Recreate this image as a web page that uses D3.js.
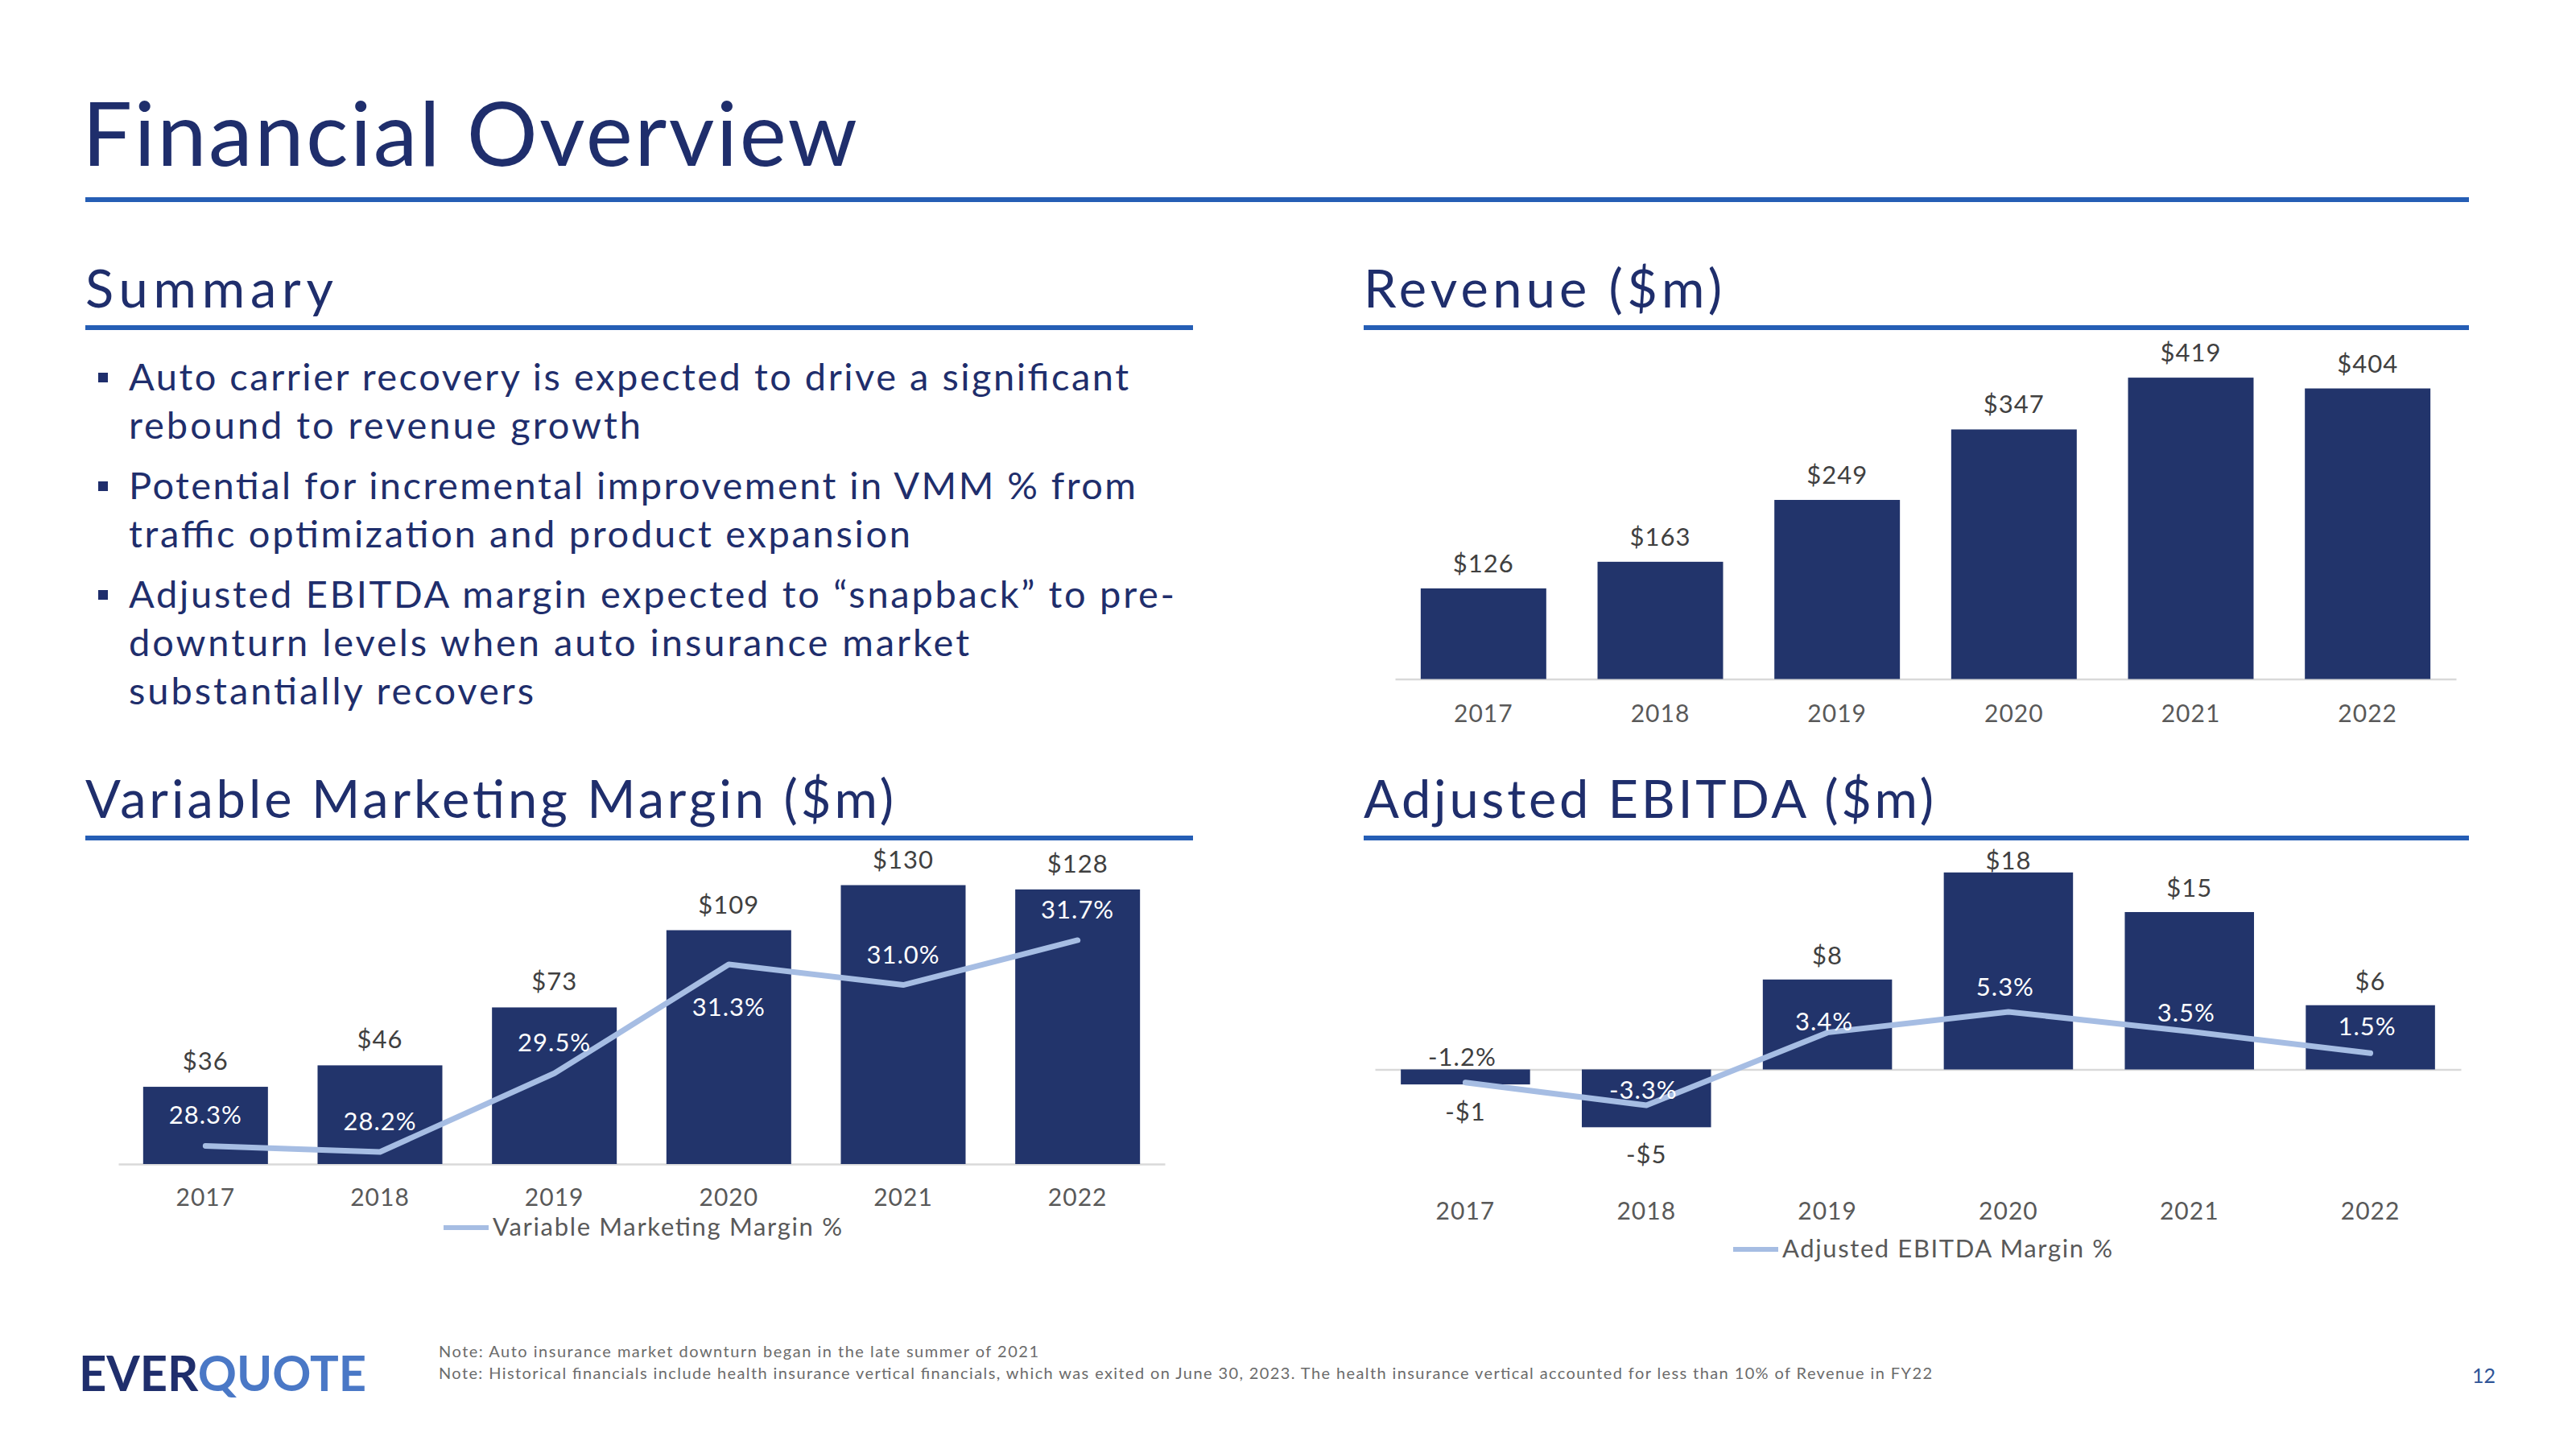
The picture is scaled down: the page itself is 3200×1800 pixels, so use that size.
<!DOCTYPE html>
<html>
<head>
<meta charset="utf-8">
<script src="https://cdn.jsdelivr.net/npm/d3@7"></script>
<style>
  html, body { margin: 0; padding: 0; background: #ffffff; }
  svg { display: block; }
  text { font-family: Lato, "Open Sans", "Noto Sans", sans-serif; }
</style>
</head>
<body>
<svg id="slide" width="3200" height="1800"></svg>
<script>
// ---------------- DATA ----------------
const years = ["2017", "2018", "2019", "2020", "2021", "2022"];
const revenue = [126, 163, 249, 347, 419, 404];
const vmm = [36, 46, 73, 109, 130, 128];
const vmmPct = [28.3, 28.2, 29.5, 31.3, 30.96, 31.7];
const ebitda = [-1.4, -5.4, 8.4, 18.4, 14.7, 6.0];
const ebitdaPct = [-1.2, -3.3, 3.4, 5.3, 3.5, 1.5];

const slideTitle = "Financial Overview";
const sectionTitles = ["Summary", "Revenue ($m)", "Variable Marketing Margin ($m)", "Adjusted EBITDA ($m)"];
const bullets = [
  ["Auto carrier recovery is expected to drive a significant", "rebound to revenue growth"],
  ["Potential for incremental improvement in VMM % from", "traffic optimization and product expansion"],
  ["Adjusted EBITDA margin expected to \u201csnapback\u201d to pre-", "downturn levels when auto insurance market", "substantially recovers"]
];
const legendVmm = "Variable Marketing Margin %";
const legendEbitda = "Adjusted EBITDA Margin %";
const notes = [
  "Note: Auto insurance market downturn began in the late summer of 2021",
  "Note: Historical financials include health insurance vertical financials, which was exited on June 30, 2023. The health insurance vertical accounted for less than 10% of Revenue in FY22"
];
const pageNumber = "12";

// ---------------- STYLE / LAYOUT ----------------
const NAVY = "#22346b";
const TITLE = "#1f2e6c";
const RULE = "#255eb5";
const LINE = "#a6bde3";
const LABEL = "#404040";
const AXISTXT = "#595959";
const AXISLINE = "#d9d9d9";

const svg = d3.select("#slide");

function fit(sel, w) {
  const n = sel.node().getComputedTextLength();
  if (n < w) sel.attr("textLength", w).attr("lengthAdjust", "spacing");
  return sel;
}

// ---------------- HEADER ----------------
fit(svg.append("text").attr("x", 102).attr("y", 206)
  .attr("font-size", 110).attr("fill", TITLE).text(slideTitle), 963);
svg.append("rect").attr("x", 106).attr("y", 245).attr("width", 2961).attr("height", 6).attr("fill", RULE);

function section(x, baseline, w, title, tw) {
  fit(svg.append("text").attr("x", x).attr("y", baseline).attr("font-size", 65)
    .attr("fill", TITLE).text(title), tw);
  svg.append("rect").attr("x", x).attr("y", baseline + 22).attr("width", w).attr("height", 6).attr("fill", RULE);
}
section(106, 382, 1376, sectionTitles[0], 308);
section(1694, 382, 1373, sectionTitles[1], 445);
section(106, 1016, 1376, sectionTitles[2], 1004);
section(1694, 1016, 1373, sectionTitles[3], 708);

// ---------------- BULLETS ----------------
(function () {
  const widths = [[1242, 636], [1251, 971], [1299, 1044, 503]];
  let y = 485;
  bullets.forEach((lines, bi) => {
    svg.append("rect").attr("x", 122).attr("y", y - 22).attr("width", 12).attr("height", 12).attr("fill", TITLE);
    lines.forEach((ln, li) => {
      fit(svg.append("text").attr("x", 160).attr("y", y).attr("font-size", 47)
        .attr("fill", TITLE).text(ln), widths[bi][li]);
      y += (li < lines.length - 1) ? 60 : 75;
    });
  });
})();

// ---------------- helpers ----------------
const fmtMoney = v => (v < 0 ? "-$" : "$") + Math.round(Math.abs(v));
const fmtPct = v => (v < 0 ? "-" : "") + Math.abs(v).toFixed(1) + "%";

function xAxis(g, x, yZero, labelY) {
  const ax = g.append("g").attr("transform", `translate(0,${yZero})`)
    .call(d3.axisBottom(x).tickSize(0).tickSizeOuter(0));
  ax.select(".domain").attr("stroke", AXISLINE).attr("stroke-width", 2.5);
  ax.selectAll(".tick text").attr("y", labelY - yZero).attr("dy", null)
    .attr("font-size", 30).attr("fill", AXISTXT).attr("letter-spacing", 1)
    .attr("font-family", "Lato, 'Open Sans', sans-serif");
  return ax;
}

// ---------------- REVENUE ----------------
(function () {
  const g = svg.append("g");
  const x = d3.scaleBand().domain(years).range([1733, 3051]).paddingInner(0.29).paddingOuter(0.145);
  const zero = 843.5, k = 0.8935;
  const y = d3.scaleLinear().domain([0, 460]).range([zero, zero - 460 * k]);
  xAxis(g, x, zero, 897);
  g.selectAll("rect.bar").data(revenue).join("rect").attr("class", "bar")
    .attr("x", (d, i) => x(years[i])).attr("width", x.bandwidth())
    .attr("y", d => y(d)).attr("height", d => y(0) - y(d)).attr("fill", NAVY);
  g.selectAll("text.val").data(revenue).join("text").attr("class", "val")
    .attr("x", (d, i) => x(years[i]) + x.bandwidth() / 2).attr("y", d => y(d) - 20)
    .attr("text-anchor", "middle").attr("font-size", 31).attr("letter-spacing", 1).attr("fill", LABEL)
    .text(fmtMoney);
})();

// ---------------- VMM ----------------
(function () {
  const g = svg.append("g");
  const x = d3.scaleBand().domain(years).range([147, 1447]).paddingInner(0.2846).paddingOuter(0.1423);
  const zero = 1446;
  const y = d3.scaleLinear().domain([0, 140]).range([zero, zero - 140 * 2.665]);
  const y2 = d3.scaleLinear().domain([28, 32]).range([zero, zero - 4 * 75.14]);
  xAxis(g, x, zero, 1498);
  const cx = i => x(years[i]) + x.bandwidth() / 2;
  g.selectAll("rect.bar").data(vmm).join("rect").attr("class", "bar")
    .attr("x", (d, i) => x(years[i])).attr("width", x.bandwidth())
    .attr("y", d => y(d)).attr("height", d => y(0) - y(d)).attr("fill", NAVY);
  g.selectAll("text.val").data(vmm).join("text").attr("class", "val")
    .attr("x", (d, i) => cx(i)).attr("y", d => y(d) - 21)
    .attr("text-anchor", "middle").attr("font-size", 31).attr("letter-spacing", 1).attr("fill", LABEL)
    .text(fmtMoney);
  const line = d3.line().x((d, i) => cx(i)).y(d => y2(d));
  g.append("path").datum(vmmPct).attr("d", line).attr("fill", "none")
    .attr("stroke", LINE).attr("stroke-width", 7).attr("stroke-linecap", "round").attr("stroke-linejoin", "round");
  const placement = ["above", "above", "above", "below", "above", "above"];
  g.selectAll("text.pct").data(vmmPct).join("text").attr("class", "pct")
    .attr("x", (d, i) => cx(i))
    .attr("y", (d, i) => placement[i] === "below" ? y2(d) + 64 : y2(d) - 27)
    .attr("text-anchor", "middle").attr("font-size", 31).attr("letter-spacing", 1).attr("fill", "#ffffff")
    .text(fmtPct);
  // legend
  g.append("line").attr("x1", 551).attr("x2", 607).attr("y1", 1525).attr("y2", 1525)
    .attr("stroke", LINE).attr("stroke-width", 6);
  fit(g.append("text").attr("x", 612).attr("y", 1535).attr("font-size", 31).attr("fill", AXISTXT).text(legendVmm), 434);
})();

// ---------------- EBITDA ----------------
(function () {
  const g = svg.append("g");
  const x = d3.scaleBand().domain(years).range([1708, 3057]).paddingInner(0.286).paddingOuter(0.143);
  const zero = 1328.5;
  const y = d3.scaleLinear().domain([-8, 20]).range([zero + 8 * 13.3, zero - 20 * 13.3]);
  const y2 = d3.scaleLinear().domain([-8, 20]).range([zero + 8 * 13.49, zero - 20 * 13.49]);
  xAxis(g, x, zero, 1515);
  const cx = i => x(years[i]) + x.bandwidth() / 2;
  g.selectAll("rect.bar").data(ebitda).join("rect").attr("class", "bar")
    .attr("x", (d, i) => x(years[i])).attr("width", x.bandwidth())
    .attr("y", d => Math.min(y(d), y(0))).attr("height", d => Math.abs(y(0) - y(d))).attr("fill", NAVY);
  g.selectAll("text.val").data(ebitda).join("text").attr("class", "val")
    .attr("x", (d, i) => cx(i))
    .attr("y", d => d >= 0 ? Math.max(y(d) - 19, 1080) : y(d) + 45)
    .attr("text-anchor", "middle").attr("font-size", 31).attr("letter-spacing", 1).attr("fill", LABEL)
    .text(fmtMoney);
  const line = d3.line().x((d, i) => cx(i)).y(d => y2(d));
  g.append("path").datum(ebitdaPct).attr("d", line).attr("fill", "none")
    .attr("stroke", LINE).attr("stroke-width", 7).attr("stroke-linecap", "round").attr("stroke-linejoin", "round");
  // label placement offsets (as placed in the original slide)
  const pctDy = [-21, -8, -3, -20, -12, -22];
  g.selectAll("text.pct").data(ebitdaPct).join("text").attr("class", "pct")
    .attr("x", (d, i) => cx(i) - 4)
    .attr("y", (d, i) => y2(d) + pctDy[i])
    .attr("text-anchor", "middle").attr("font-size", 31).attr("letter-spacing", 1)
    .attr("fill", (d, i) => {
      const mid = y2(d) + pctDy[i] - 11;
      const top = Math.min(y(ebitda[i]), y(0)), bot = Math.max(y(ebitda[i]), y(0));
      return (mid >= top && mid <= bot) ? "#ffffff" : LABEL;
    })
    .text(fmtPct);
  g.append("line").attr("x1", 2153).attr("x2", 2209).attr("y1", 1552).attr("y2", 1552)
    .attr("stroke", LINE).attr("stroke-width", 6);
  fit(g.append("text").attr("x", 2214).attr("y", 1562).attr("font-size", 31).attr("fill", AXISTXT).text(legendEbitda), 410);
})();

// ---------------- FOOTER ----------------
const logo = svg.append("text").attr("x", 98).attr("y", 1728).attr("font-size", 62)
  .attr("font-weight", 700).attr("font-family", "Roboto, 'Liberation Sans', sans-serif")
  .attr("textLength", 357).attr("lengthAdjust", "spacingAndGlyphs");
logo.append("tspan").attr("fill", "#1f2e6c").text("EVER");
logo.append("tspan").attr("fill", "#4a78c6").text("QUOTE");

const noteWidths = [745, 1855];
notes.forEach((n, i) => {
  fit(svg.append("text").attr("x", 545).attr("y", 1686 + i * 27).attr("font-size", 20)
    .attr("fill", "#6b6b6b").text(n), noteWidths[i]);
});
svg.append("text").attr("x", 3100).attr("y", 1718).attr("text-anchor", "end")
  .attr("font-size", 25).attr("fill", "#2f5597").text(pageNumber);
</script>
</body>
</html>
